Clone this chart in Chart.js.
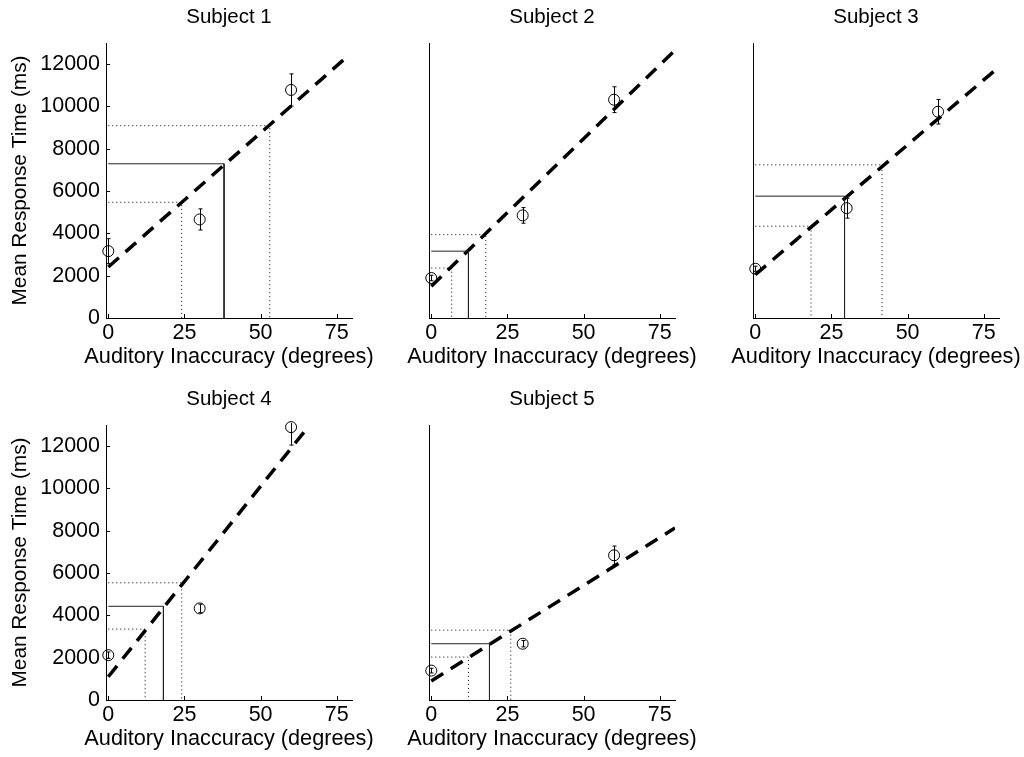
<!DOCTYPE html>
<html><head><meta charset="utf-8">
<script src="https://cdn.jsdelivr.net/npm/chart.js@4.4.0/dist/chart.umd.min.js"></script>
<style>
html,body{margin:0;padding:0;background:#fff;overflow:hidden;}
#wrap{position:relative;width:1024px;height:757px;overflow:hidden;background:#fff;}
#wrap canvas{position:absolute;}
</style></head><body><div id="wrap"></div>
<script>
// ---- data ----
const subjects = ['Subject 1', 'Subject 2', 'Subject 3', 'Subject 4', 'Subject 5'];
const xLabel = 'Auditory Inaccuracy (degrees)';
const yLabel = 'Mean Response Time (ms)';
const xTicks = [0, 25, 50, 75];
const yTicks = [0, 2000, 4000, 6000, 8000, 10000, 12000];
const inaccuracy = [0, 30, 60];

const rtS1 = [3160, 4660, 10780]; const errS1 = [590, 500, 760];
const rtS2 = [1890, 4850, 10320]; const errS2 = [130, 370, 610];
const rtS3 = [2330, 5190, 9750];  const errS3 = [120, 470, 580];
const rtS4 = [2120, 4330, 12900]; const errS4 = [150, 200, 850];
const rtS5 = [1390, 2660, 6840];  const errS5 = [110, 150, 440];

const fitXS1 = [0, 79];   const fitYS1 = [2410, 12430];
const fitXS2 = [0, 79.6]; const fitYS2 = [1500, 12600];
const fitXS3 = [0, 79.2]; const fitYS3 = [2050, 11770];
const fitXS4 = [0, 65];   const fitYS4 = [1100, 12800];
const fitXS5 = [0, 80];   const fitYS5 = [900, 8130];

const critX = [38, 12.2, 29.3, 18.1, 19.1];
const critY = [7290, 3160, 5760, 4430, 2660];
const lowX  = [24.1, 6.7, 18.3, 12.1, 12.2];
const lowY  = [5470, 2360, 4340, 3350, 2030];
const highX = [53, 17.9, 41.6, 24.1, 26.1];
const highY = [9090, 3940, 7240, 5540, 3300];

const rts = [rtS1, rtS2, rtS3, rtS4, rtS5];
const errs = [errS1, errS2, errS3, errS4, errS5];
const fitXs = [fitXS1, fitXS2, fitXS3, fitXS4, fitXS5];
const fitYs = [fitYS1, fitYS2, fitYS3, fitYS4, fitYS5];

// ---- layout ----
const FAM = "'Liberation Sans', Arial, Helvetica, sans-serif";
const titleFont = {family: FAM, size: 20.5, weight: 'normal'};
const tickFont = {family: FAM, size: 21.5, weight: 'normal'};
const xLabFont = {family: FAM, size: 21.7, weight: 'normal'};
const yLabFont = {family: FAM, size: 20.8, weight: 'normal'};
const pos = [[0, 0, true], [323, 0, false], [647, 0, false], [0, 382, true], [323, 382, false]];
const CW = 458, CH = 375;

const tickPlugin = {
  id: 'inTicks',
  afterDraw(chart, args, opts) {
    const {ctx, chartArea: a, scales: {x, y}} = chart;
    ctx.save();
    ctx.strokeStyle = '#000'; ctx.lineWidth = 1;
    ctx.beginPath();
    xTicks.forEach(v => {
      const p = Math.round(x.getPixelForValue(v)) + 0.5;
      ctx.moveTo(p, a.bottom); ctx.lineTo(p, a.bottom - 4);
    });
    if (opts.showY) {
      yTicks.forEach(v => {
        const p = Math.round(y.getPixelForValue(v)) + 0.5;
        ctx.moveTo(a.left, p); ctx.lineTo(a.left + 4, p);
      });
    }
    ctx.stroke();
    ctx.restore();
  }
};

const errPlugin = {
  id: 'errBars',
  afterDatasetsDraw(chart, args, opts) {
    const {ctx, chartArea: a, scales: {x, y}} = chart;
    ctx.save();
    ctx.beginPath();
    ctx.rect(a.left - 10, a.top - 2, a.right - a.left + 20, a.bottom - a.top + 4);
    ctx.clip();
    ctx.strokeStyle = '#000'; ctx.lineWidth = 1;
    ctx.beginPath();
    opts.xs.forEach((xv, k) => {
      const px = Math.round(x.getPixelForValue(xv)) + 0.5;
      const lo = y.getPixelForValue(opts.ys[k] - opts.es[k]);
      const hi = y.getPixelForValue(opts.ys[k] + opts.es[k]);
      ctx.moveTo(px, lo); ctx.lineTo(px, hi);
      ctx.moveTo(px - 2, lo); ctx.lineTo(px + 2, lo);
      ctx.moveTo(px - 2, hi); ctx.lineTo(px + 2, hi);
    });
    ctx.stroke();
    ctx.restore();
  }
};

const wrap = document.getElementById('wrap');

function guide(gx, gy) {
  return [{x: 0, y: gy}, {x: gx, y: gy}, {x: gx, y: 0}];
}

subjects.forEach((name, i) => {
  const [left, top, showY] = pos[i];
  const c = document.createElement('canvas');
  c.width = CW; c.height = CH;
  c.style.left = left + 'px'; c.style.top = top + 'px';
  c.style.width = CW + 'px'; c.style.height = CH + 'px';
  wrap.appendChild(c);
  new Chart(c, {
    type: 'scatter',
    data: {
      datasets: [
        {type: 'line', data: guide(lowX[i], lowY[i]), borderColor: '#000', borderWidth: 1, borderDash: [1, 3], pointRadius: 0, tension: 0, fill: false},
        {type: 'line', data: guide(highX[i], highY[i]), borderColor: '#000', borderWidth: 1, borderDash: [1, 3], pointRadius: 0, tension: 0, fill: false},
        {type: 'line', data: guide(critX[i], critY[i]), borderColor: '#222', borderWidth: 1, pointRadius: 0, tension: 0, fill: false},
        {type: 'line', data: fitXs[i].map((xv, k) => ({x: xv, y: fitYs[i][k]})), borderColor: '#000', borderWidth: 3.5, borderDash: [14, 9], borderCapStyle: 'butt', pointRadius: 0, tension: 0, fill: false},
        {type: 'scatter', data: inaccuracy.map((xv, k) => ({x: xv, y: rts[i][k]})), pointStyle: 'circle', pointRadius: 5.5, pointBorderWidth: 1, pointBorderColor: '#000', pointBackgroundColor: 'rgba(0,0,0,0)', clip: false}
      ]
    },
    options: {
      responsive: false, animation: false, devicePixelRatio: 1,
      layout: {padding: 0},
      events: [],
      plugins: {
        legend: {display: false},
        tooltip: {enabled: false},
        title: {display: true, text: name, color: '#000', font: titleFont, padding: {top: 4.7, bottom: 13.7}},
        subtitle: {display: true, position: 'bottom', text: xLabel, color: '#000', font: xLabFont, padding: {top: 0.5, bottom: 4.46}},
        inTicks: {showY: showY},
        errBars: {xs: inaccuracy, ys: rts[i], es: errs[i]}
      },
      scales: {
        x: {
          type: 'linear', position: 'bottom', min: -0.75, max: 80,
          grid: {display: false, drawTicks: false},
          border: {display: true, color: '#000', width: 1},
          afterBuildTicks: s => { s.ticks = xTicks.map(v => ({value: v})); },
          afterFit: s => { s.height = 26; },
          ticks: {color: '#000', font: tickFont, padding: 2.1, autoSkip: false, maxRotation: 0, minRotation: 0, callback: v => String(v)},
          title: {display: false}
        },
        y: {
          type: 'linear', position: 'left', min: 0, max: 13000,
          grid: {display: false, drawTicks: false},
          border: {display: true, color: '#000', width: 1},
          afterBuildTicks: s => { s.ticks = yTicks.map(v => ({value: v})); },
          afterFit: s => { s.width = 106; },
          ticks: {display: showY, color: '#000', font: tickFont, padding: 6, autoSkip: false, callback: v => String(v)},
          title: {display: showY, text: yLabel, color: '#000', font: yLabFont, padding: {top: 7.5, bottom: 0}}
        },
        yRight: {
          type: 'linear', position: 'right', display: true,
          grid: {display: false, drawTicks: false},
          border: {display: false},
          ticks: {display: false},
          afterFit: s => { s.width = 106; }
        }
      }
    },
    plugins: [tickPlugin, errPlugin]
  });
});
</script>
</body></html>
